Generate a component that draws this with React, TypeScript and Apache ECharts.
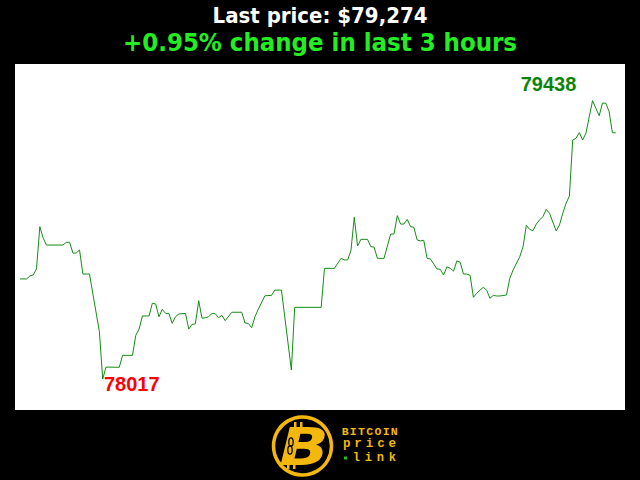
import React, { useEffect, useRef } from "react";
import * as echarts from "echarts";

const titleMain = "Last price: $79,274";
const titleSub = "+0.95% change in last 3 hours";

const minutes = [0,2,3,4,5,6,7,8,13,14,15,16,17,18,19,21,24,25,26,30,31,34,35,36,37,39,40,41,42,43,44,45,46,47,48,50,51,52,53,54,55,56,57,58,59,60,61,62,64,67,68,69,70,71,72,74,76,77,79,82,83,91,92,95,97,98,99,100,101,102,103,105,106,107,108,110,112,113,114,115,116,117,118,119,120,121,122,123,124,126,127,128,129,130,131,132,133,134,135,136,137,138,139,140,141,142,143,144,145,147,148,149,151,152,153,154,155,156,157,158,159,160,162,163,164,165,166,167,168,169,170,171,172,173,174,175,176,177,178,179,180];

const prices = [78528,78528,78543,78548,78579,78795,78737,78701,78701,78715,78715,78660,78660,78676,78553,78553,78259,78017,78078,78077,78138,78138,78240,78272,78339,78339,78404,78400,78335,78373,78352,78352,78301,78335,78349,78352,78272,78296,78299,78417,78327,78330,78335,78352,78350,78330,78342,78315,78358,78358,78303,78301,78279,78335,78373,78442,78444,78471,78471,78063,78383,78383,78582,78582,78633,78625,78625,78672,78843,78696,78730,78730,78693,78690,78633,78633,78757,78757,78851,78808,78808,78832,78795,78792,78727,78722,78725,78633,78630,78579,78577,78548,78590,78582,78568,78620,78613,78553,78553,78546,78434,78455,78471,78485,78471,78429,78444,78441,78441,78446,78531,78574,78641,78693,78802,78781,78774,78808,78829,78846,78883,78863,78773,78803,78863,78914,78951,79237,79246,79275,79237,79272,79356,79438,79399,79361,79425,79425,79382,79274,79274];

const logoWords = ["BITCOIN", "price", "link"];

const GOLD = "#f4b70b";

function spaced(word: string, x0: number, y: number, step: number, size: number) {
  return word.split("").map((ch, i) => ({
    type: "text",
    x: x0 + i * step,
    y,
    style: {
      text: ch,
      fill: GOLD,
      font: `bold ${size}px "Liberation Mono", "DejaVu Sans Mono", monospace`,
      textAlign: "center",
      textVerticalAlign: "middle",
    },
  }));
}

export default function App() {
  const ref = useRef<HTMLDivElement>(null);
  useEffect(() => {
    if (!ref.current) return;
    const chart = echarts.init(ref.current, undefined, { renderer: "svg" });
    const data = minutes.map((m, i) => [m, prices[i]]);
    chart.setOption({
      animation: false,
      backgroundColor: "#000",
      grid: {
        left: 15,
        right: 15,
        top: 64,
        bottom: 70,
        show: true,
        backgroundColor: "#ffffff",
        borderWidth: 0,
      },
      xAxis: { type: "value", min: -1.5, max: 182.8, show: false, splitLine: { show: false } },
      yAxis: { type: "value", min: 77859, max: 79625, show: false, splitLine: { show: false } },
      series: [
        {
          type: "line",
          data,
          symbol: "none",
          lineStyle: { color: "#168c16", width: 1 },
          markPoint: {
            symbol: "circle",
            symbolSize: 0,
            data: [
              {
                type: "max",
                valueDim: "y",
                label: {
                  show: true,
                  position: "inside",
                  offset: [-44, -17],
                  color: "#0a850a",
                  fontSize: 20,
                  fontWeight: "bold",
                  fontFamily: "'Liberation Sans', Arial, sans-serif",
                  formatter: (p: any) => String(p.value),
                },
              },
              {
                type: "min",
                valueDim: "y",
                label: {
                  show: true,
                  position: "inside",
                  offset: [29, 5],
                  color: "#ff0000",
                  fontSize: 20,
                  fontWeight: "bold",
                  fontFamily: "'Liberation Sans', Arial, sans-serif",
                  formatter: (p: any) => String(p.value),
                },
              },
            ],
          },
        },
      ],
      graphic: [
        {
          type: "text",
          x: 320,
          y: 15.3,
          style: {
            text: titleMain,
            fill: "#ffffff",
            font: "bold 22px 'DejaVu Sans Condensed', 'DejaVu Sans', sans-serif",
            textAlign: "center",
            textVerticalAlign: "middle",
          },
        },
        {
          type: "text",
          x: 320,
          y: 41.6,
          style: {
            text: titleSub,
            fill: "#22ee22",
            font: "bold 25.5px 'DejaVu Sans Condensed', 'DejaVu Sans', sans-serif",
            textAlign: "center",
            textVerticalAlign: "middle",
          },
        },
        {
          type: "circle",
          shape: { cx: 302.5, cy: 446, r: 29 },
          style: { fill: "#000", stroke: GOLD, lineWidth: 3.5 },
        },
        {
          type: "text",
          x: 304,
          y: 447,
          scaleX: 1.25,
          style: {
            text: "B",
            fill: GOLD,
            font: "italic bold 52px 'DejaVu Sans', sans-serif",
            textAlign: "center",
            textVerticalAlign: "middle",
          },
        },
        { type: "rect", shape: { x: 294, y: 422, width: 2.5, height: 6 }, style: { fill: GOLD } },
        { type: "rect", shape: { x: 300, y: 422, width: 2.5, height: 6 }, style: { fill: GOLD } },
        { type: "rect", shape: { x: 287, y: 464, width: 2.5, height: 5 }, style: { fill: GOLD } },
        { type: "rect", shape: { x: 293, y: 464, width: 2.5, height: 5 }, style: { fill: GOLD } },
        { type: "ellipse", shape: { cx: 291, cy: 442, rx: 2.2, ry: 4.2 }, style: { fill: "none", stroke: "#000", lineWidth: 1.3 } },
        { type: "ellipse", shape: { cx: 290, cy: 450, rx: 2.2, ry: 4.2 }, style: { fill: "none", stroke: "#000", lineWidth: 1.3 } },
        ...spaced(logoWords[0], 345.1, 431, 8.2, 11.5),
        ...spaced(logoWords[1], 346.7, 444.3, 11.4, 12.5),
        ...spaced(logoWords[2], 356.3, 458.4, 12, 12),
        { type: "rect", shape: { x: 344, y: 456.5, width: 3, height: 3 }, style: { fill: "#22bb22" } },
      ],
    });
    return () => chart.dispose();
  }, []);
  return (
    <div
      ref={ref}
      style={{ position: "fixed", left: 0, top: 0, width: 640, height: 480, background: "#000" }}
    />
  );
}
